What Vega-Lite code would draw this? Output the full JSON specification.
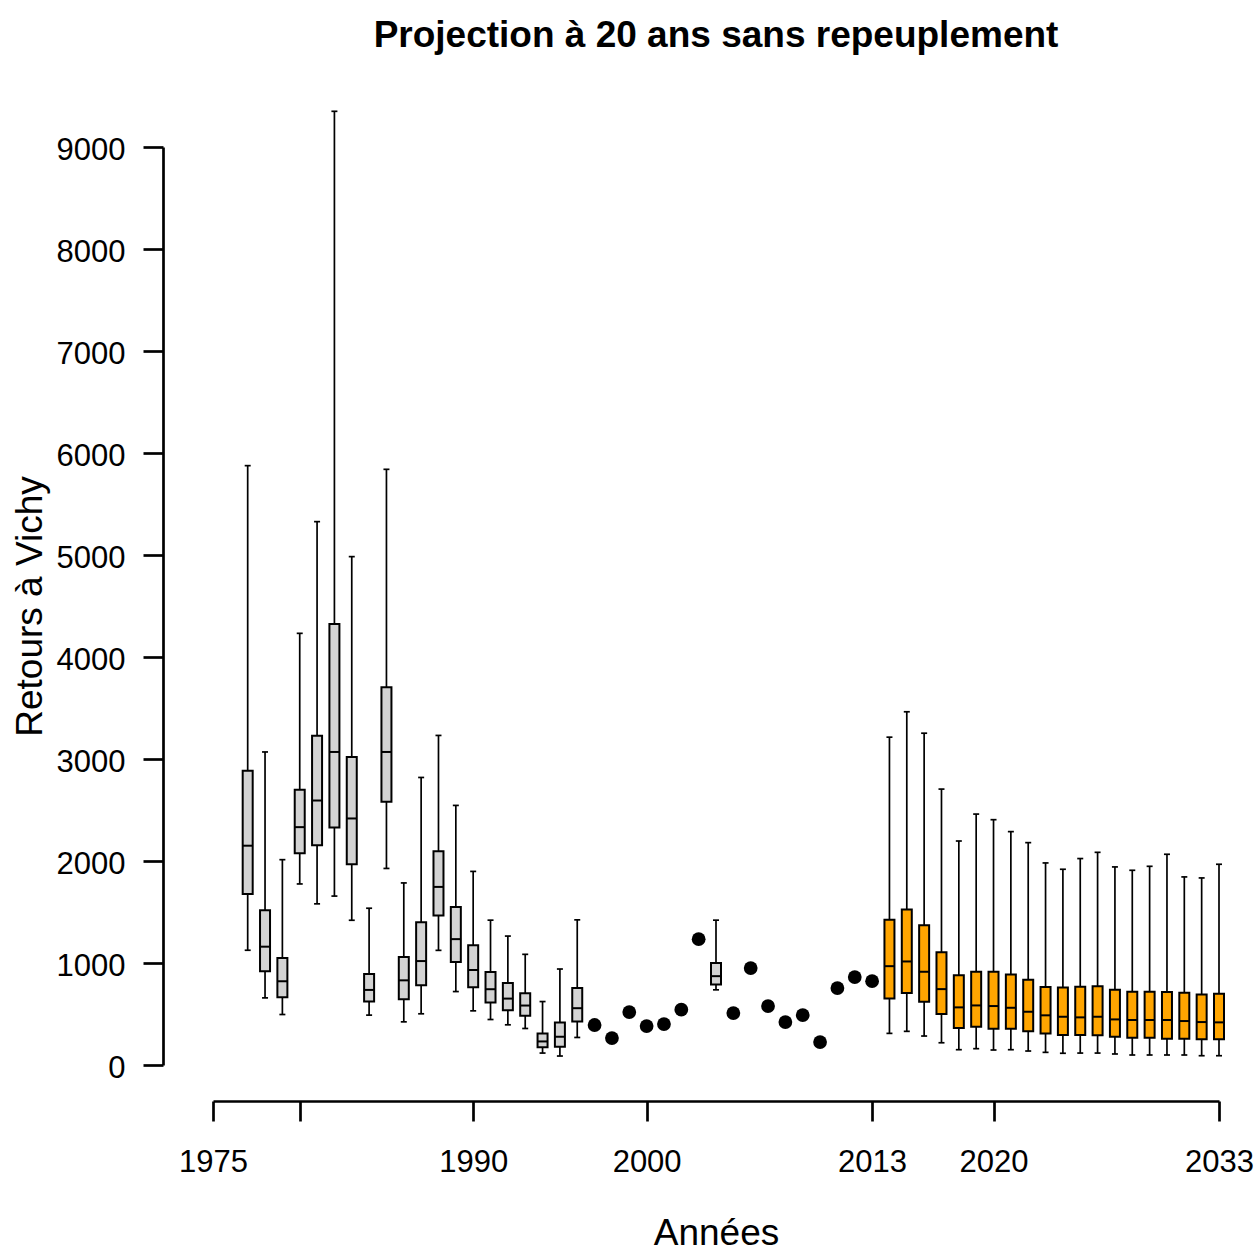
{
  "$schema": "https://vega.github.io/schema/vega-lite/v6.json",
  "autosize": "none",
  "width": 1006,
  "height": 918,
  "padding": {"left": 213, "top": 147, "right": 40, "bottom": 185},
  "background": "white",
  "config": {
    "view": {"stroke": null},
    "font": "Liberation Sans",
    "axis": {
      "grid": false,
      "domainColor": "black",
      "domainWidth": 2.7,
      "tickColor": "black",
      "tickWidth": 2.7,
      "tickSize": 20,
      "labelFont": "Liberation Sans",
      "labelFontSize": 31,
      "labelColor": "black",
      "titleFont": "Liberation Sans",
      "titleFontSize": 37,
      "titleFontWeight": "normal",
      "titleColor": "black",
      "labelOverlap": false,
      "labelFlush": false
    }
  },
  "title": {
    "text": "Projection à 20 ans sans repeuplement",
    "font": "Liberation Sans",
    "fontSize": 37,
    "fontWeight": "bold",
    "color": "black",
    "anchor": "middle",
    "frame": "group",
    "baseline": "alphabetic",
    "offset": 26
  },
  "datasets": {
    "boxes": [
      {"year": 1977, "lower": 1125, "q1": 1677, "median": 2150, "q3": 2886, "upper": 5876, "type": "hist"},
      {"year": 1978, "lower": 658, "q1": 920, "median": 1160, "q3": 1517, "upper": 3069, "type": "hist"},
      {"year": 1979, "lower": 495, "q1": 664, "median": 821, "q3": 1049, "upper": 2013, "type": "hist"},
      {"year": 1980, "lower": 1775, "q1": 2076, "median": 2332, "q3": 2699, "upper": 4232, "type": "hist"},
      {"year": 1981, "lower": 1580, "q1": 2155, "median": 2593, "q3": 3229, "upper": 5327, "type": "hist"},
      {"year": 1982, "lower": 1656, "q1": 2328, "median": 3069, "q3": 4324, "upper": 9350, "type": "hist"},
      {"year": 1983, "lower": 1419, "q1": 1967, "median": 2417, "q3": 3020, "upper": 4984, "type": "hist"},
      {"year": 1984, "lower": 489, "q1": 622, "median": 736, "q3": 892, "upper": 1537, "type": "hist"},
      {"year": 1985, "lower": 1927, "q1": 2582, "median": 3069, "q3": 3703, "upper": 5840, "type": "hist"},
      {"year": 1986, "lower": 423, "q1": 645, "median": 830, "q3": 1058, "upper": 1785, "type": "hist"},
      {"year": 1987, "lower": 502, "q1": 782, "median": 1019, "q3": 1400, "upper": 2819, "type": "hist"},
      {"year": 1988, "lower": 1124, "q1": 1466, "median": 1746, "q3": 2096, "upper": 3231, "type": "hist"},
      {"year": 1989, "lower": 720, "q1": 1010, "median": 1234, "q3": 1550, "upper": 2545, "type": "hist"},
      {"year": 1990, "lower": 531, "q1": 762, "median": 932, "q3": 1173, "upper": 1898, "type": "hist"},
      {"year": 1991, "lower": 446, "q1": 612, "median": 743, "q3": 912, "upper": 1420, "type": "hist"},
      {"year": 1992, "lower": 394, "q1": 537, "median": 651, "q3": 805, "upper": 1264, "type": "hist"},
      {"year": 1993, "lower": 358, "q1": 482, "median": 583, "q3": 704, "upper": 1085, "type": "hist"},
      {"year": 1994, "lower": 117, "q1": 173, "median": 231, "q3": 309, "upper": 622, "type": "hist"},
      {"year": 1995, "lower": 88, "q1": 179, "median": 277, "q3": 417, "upper": 941, "type": "hist"},
      {"year": 1996, "lower": 270, "q1": 427, "median": 557, "q3": 756, "upper": 1423, "type": "hist"},
      {"year": 2004, "lower": 737, "q1": 790, "median": 871, "q3": 999, "upper": 1420, "type": "hist"},
      {"year": 2014, "lower": 310, "q1": 653, "median": 969, "q3": 1423, "upper": 3214, "type": "proj"},
      {"year": 2015, "lower": 330, "q1": 705, "median": 1015, "q3": 1524, "upper": 3463, "type": "proj"},
      {"year": 2016, "lower": 284, "q1": 620, "median": 914, "q3": 1371, "upper": 3253, "type": "proj"},
      {"year": 2017, "lower": 218, "q1": 499, "median": 744, "q3": 1106, "upper": 2705, "type": "proj"},
      {"year": 2018, "lower": 150, "q1": 362, "median": 565, "q3": 881, "upper": 2196, "type": "proj"},
      {"year": 2019, "lower": 160, "q1": 375, "median": 584, "q3": 914, "upper": 2460, "type": "proj"},
      {"year": 2020, "lower": 147, "q1": 356, "median": 578, "q3": 914, "upper": 2405, "type": "proj"},
      {"year": 2021, "lower": 150, "q1": 356, "median": 561, "q3": 888, "upper": 2288, "type": "proj"},
      {"year": 2022, "lower": 137, "q1": 330, "median": 522, "q3": 835, "upper": 2180, "type": "proj"},
      {"year": 2023, "lower": 124, "q1": 310, "median": 487, "q3": 764, "upper": 1981, "type": "proj"},
      {"year": 2024, "lower": 115, "q1": 294, "median": 473, "q3": 760, "upper": 1919, "type": "proj"},
      {"year": 2025, "lower": 117, "q1": 294, "median": 467, "q3": 767, "upper": 2024, "type": "proj"},
      {"year": 2026, "lower": 117, "q1": 291, "median": 473, "q3": 773, "upper": 2085, "type": "proj"},
      {"year": 2027, "lower": 108, "q1": 277, "median": 447, "q3": 737, "upper": 1942, "type": "proj"},
      {"year": 2028, "lower": 98, "q1": 267, "median": 441, "q3": 718, "upper": 1909, "type": "proj"},
      {"year": 2029, "lower": 98, "q1": 267, "median": 441, "q3": 718, "upper": 1948, "type": "proj"},
      {"year": 2030, "lower": 98, "q1": 258, "median": 441, "q3": 715, "upper": 2066, "type": "proj"},
      {"year": 2031, "lower": 98, "q1": 258, "median": 431, "q3": 708, "upper": 1844, "type": "proj"},
      {"year": 2032, "lower": 91, "q1": 252, "median": 421, "q3": 692, "upper": 1834, "type": "proj"},
      {"year": 2033, "lower": 91, "q1": 252, "median": 418, "q3": 698, "upper": 1968, "type": "proj"}
    ],
    "dots": [
      {"year": 1997, "value": 392},
      {"year": 1998, "value": 264},
      {"year": 1999, "value": 519},
      {"year": 2000, "value": 382},
      {"year": 2001, "value": 401},
      {"year": 2002, "value": 542},
      {"year": 2003, "value": 1234},
      {"year": 2005, "value": 509},
      {"year": 2006, "value": 950},
      {"year": 2007, "value": 578},
      {"year": 2008, "value": 421},
      {"year": 2009, "value": 490},
      {"year": 2010, "value": 225},
      {"year": 2011, "value": 754},
      {"year": 2012, "value": 862},
      {"year": 2013, "value": 822}
    ]
  },
  "layer": [
    {
      "data": {"name": "boxes"},
      "mark": {"type": "rule", "color": "black", "strokeWidth": 1.7, "clip": false},
      "encoding": {
        "x": {
          "field": "year", "type": "quantitative",
          "scale": {"domain": [1975, 2033], "nice": false, "zero": false, "padding": 0},
          "axis": {
            "title": "Années",
            "orient": "bottom",
            "offset": 36,
            "values": [1975, 1980, 1990, 2000, 2013, 2020, 2033],
            "format": "d",
            "labelExpr": "datum.value == 1980 ? '' : datum.label",
            "labelPadding": 26,
            "titleX": 503,
            "titleY": 143,
            "titleBaseline": "alphabetic",
            "titleAlign": "center"
          }
        },
        "y": {
          "field": "lower", "type": "quantitative",
          "scale": {"domain": [0, 9000], "nice": false, "zero": false, "padding": 0},
          "axis": {
            "title": "Retours à Vichy",
            "orient": "left",
            "offset": 50,
            "values": [0, 1000, 2000, 3000, 4000, 5000, 6000, 7000, 8000, 9000],
            "format": "d",
            "labelPadding": 18,
            "labelOffset": 3,
            "titleX": -122,
            "titleY": 459,
            "titleAngle": -90,
            "titleBaseline": "alphabetic",
            "titleAlign": "center"
          }
        },
        "y2": {"field": "upper"}
      }
    },
    {
      "data": {"name": "boxes"},
      "mark": {"type": "tick", "orient": "horizontal", "size": 6, "thickness": 1.7, "color": "black", "opacity": 1, "clip": false},
      "encoding": {
        "x": {"field": "year", "type": "quantitative"},
        "y": {"field": "upper", "type": "quantitative"}
      }
    },
    {
      "data": {"name": "boxes"},
      "mark": {"type": "tick", "orient": "horizontal", "size": 6, "thickness": 1.7, "color": "black", "opacity": 1, "clip": false},
      "encoding": {
        "x": {"field": "year", "type": "quantitative"},
        "y": {"field": "lower", "type": "quantitative"}
      }
    },
    {
      "data": {"name": "boxes"},
      "mark": {"type": "bar", "size": 10, "stroke": "black", "strokeWidth": 2, "opacity": 1, "clip": false},
      "encoding": {
        "x": {"field": "year", "type": "quantitative"},
        "y": {"field": "q1", "type": "quantitative"},
        "y2": {"field": "q3"},
        "fill": {
          "field": "type", "type": "nominal",
          "scale": {"domain": ["hist", "proj"], "range": ["#d3d3d3", "#ffa500"]},
          "legend": null
        }
      }
    },
    {
      "data": {"name": "boxes"},
      "mark": {"type": "tick", "orient": "horizontal", "size": 10.5, "thickness": 2, "color": "black", "opacity": 1, "clip": false},
      "encoding": {
        "x": {"field": "year", "type": "quantitative"},
        "y": {"field": "median", "type": "quantitative"}
      }
    },
    {
      "data": {"name": "dots"},
      "mark": {"type": "circle", "size": 190, "color": "black", "opacity": 1, "clip": false},
      "encoding": {
        "x": {"field": "year", "type": "quantitative"},
        "y": {"field": "value", "type": "quantitative"}
      }
    }
  ]
}
